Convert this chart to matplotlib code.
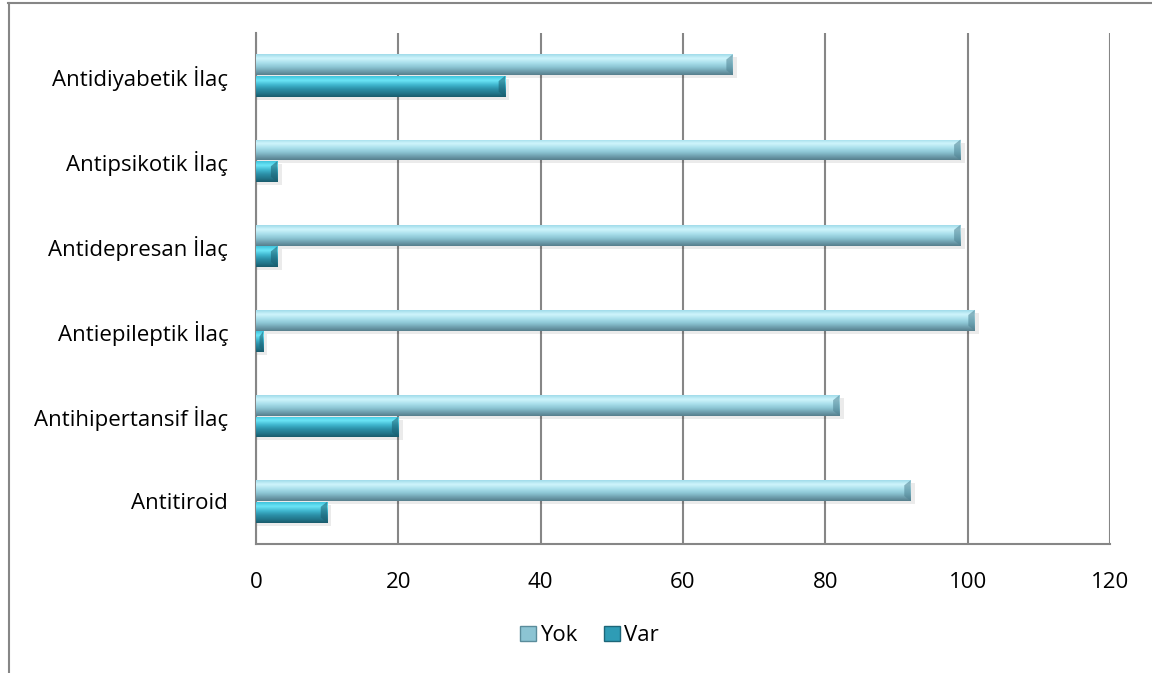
import numpy as np
import matplotlib.pyplot as plt
from matplotlib.colors import LinearSegmentedColormap
from matplotlib.patches import Patch, Polygon
from matplotlib.lines import Line2D

plt.rcParams['font.family'] = ['Open Sans', 'DejaVu Sans']

# ilaç grupları (alttan üste)
ilaclar = ['Antitiroid', 'Antihipertansif İlaç', 'Antiepileptik İlaç',
           'Antidepresan İlaç', 'Antipsikotik İlaç', 'Antidiyabetik İlaç']
yok = [92, 82, 101, 99, 99, 67]
var = [10, 20, 1, 3, 3, 35]
x_ticks = [0, 20, 40, 60, 80, 100, 120]

# bevel benzeri dikey renk geçişleri (üstten alta)
yok_cmap = LinearSegmentedColormap.from_list('yok', [
    (0.0, '#9fdbe9'), (0.2, '#d0f5fc'), (0.42, '#a9dfeb'),
    (0.62, '#8cc6d4'), (0.82, '#6f9fae'), (1.0, '#567f8c')])
var_cmap = LinearSegmentedColormap.from_list('var', [
    (0.0, '#40c4dc'), (0.2, '#6ce6f8'), (0.42, '#3fb6ce'),
    (0.62, '#2c90a8'), (0.82, '#22778c'), (1.0, '#1a5b6c')])

fig = plt.figure(figsize=(11.52, 6.73), dpi=100)
ax = fig.add_axes([0.2222, 0.1917, 0.7413, 0.7593])

y = np.arange(len(ilaclar))
h = 0.245
grad = np.linspace(0, 1, 64).reshape(-1, 1)


def gradient_bars(vals, offset, cmap, end_color, label):
    bars = ax.barh(y + offset, vals, height=h, color='none',
                   edgecolor='none', label=label, zorder=3)
    for yi, v, rect in zip(y + offset, vals, bars):
        # gölge
        ax.barh(yi - 0.035, v + 0.5, height=h, left=0.1, color='#000000',
                alpha=0.08, zorder=2, linewidth=0)
        im = ax.imshow(grad, cmap=cmap, aspect='auto', zorder=3,
                       extent=(0, v, yi - h / 2, yi + h / 2),
                       interpolation='bicubic')
        im.set_clip_path(rect)
        # sağ uçtaki eğim
        d = min(0.9, v / 2)
        ax.add_patch(Polygon([(v - d, yi + h / 2 - 0.06), (v, yi + h / 2),
                              (v, yi - h / 2), (v - d, yi - h / 2 + 0.06)],
                             closed=True, color=end_color, alpha=0.55,
                             zorder=4, linewidth=0))
    return bars


gradient_bars(yok, h / 2 + 0.004, yok_cmap, '#4f8393', 'Yok')
gradient_bars(var, -h / 2 - 0.004, var_cmap, '#1b5f70', 'Var')

ax.set_xlim(0, 120)
ax.set_ylim(-0.5, len(ilaclar) - 0.5)
ax.set_xticks(x_ticks)
ax.set_yticks(y)
ax.set_yticklabels(ilaclar)
ax.tick_params(axis='both', length=0, labelsize=16, colors='#000000')
ax.tick_params(axis='x', pad=20)
ax.tick_params(axis='y', pad=20)

ax.grid(axis='x', color='#868686', linewidth=1.5, zorder=0)
ax.set_axisbelow(True)
for s in ['top', 'right']:
    ax.spines[s].set_visible(False)
for s in ['left', 'bottom']:
    ax.spines[s].set_color('#868686')
    ax.spines[s].set_linewidth(1.5)

handles = [Patch(facecolor='#8cc4d3', edgecolor='#5a8c9b', label='Yok'),
           Patch(facecolor='#2f9cb5', edgecolor='#1d6678', label='Var')]
fig.legend(handles=handles, loc='center', bbox_to_anchor=(0.512, 0.055),
           ncol=2, frameon=False, fontsize=16, handlelength=0.7,
           handleheight=0.7, handletextpad=0.2, columnspacing=1.2)

# çerçeve çizgileri
fig.add_artist(Line2D([0.007, 1.0], [0.9955, 0.9955], color='#868686',
                      linewidth=1.5, transform=fig.transFigure))
fig.add_artist(Line2D([0.0075, 0.0075], [0.0, 0.9955], color='#868686',
                      linewidth=1.5, transform=fig.transFigure))

fig.savefig('out.png', dpi=100)
